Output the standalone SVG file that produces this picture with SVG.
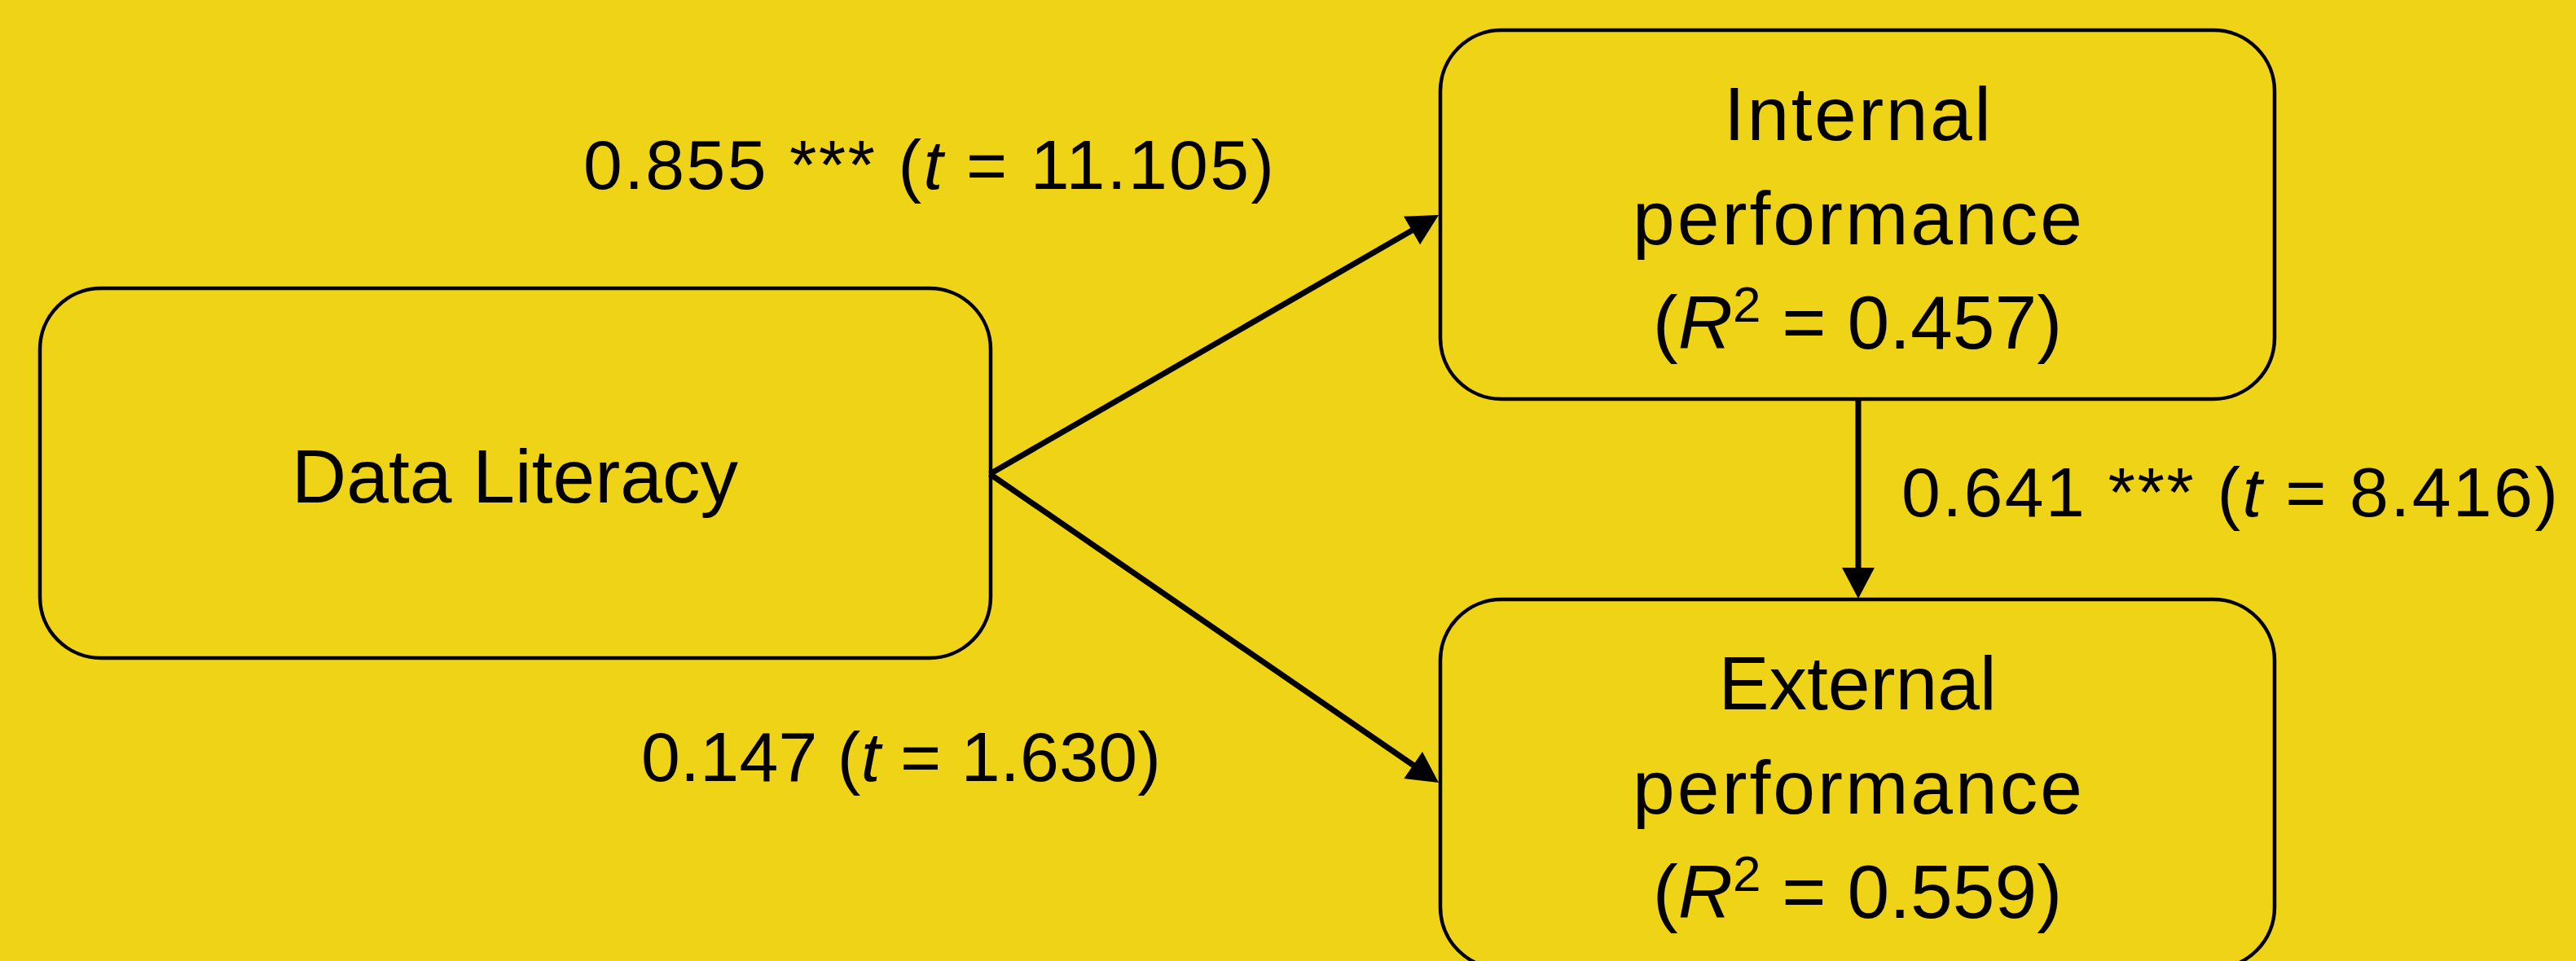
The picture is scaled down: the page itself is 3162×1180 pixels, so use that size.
<svg xmlns="http://www.w3.org/2000/svg" width="3162" height="1180" viewBox="0 0 3162 1180">
  <defs>
    <style>
      .box { fill: none; stroke: #000; stroke-width: 4.5; }
      .node { font-family: "Liberation Sans", Arial, sans-serif; font-size: 93px; fill: #000; text-anchor: middle; }
      .lbl { font-family: "Liberation Sans", Arial, sans-serif; font-size: 86px; fill: #000; text-anchor: middle; }
      .it { font-style: italic; }
      .sup { font-size: 62px; }
      .edge { stroke: #000; stroke-width: 7; fill: none; marker-end: url(#head); }
    </style>
    <!-- filled triangular arrowhead, tip at x=38 -->
    <marker id="head" markerUnits="userSpaceOnUse" markerWidth="38" markerHeight="40" refX="23" refY="20" orient="auto" overflow="visible">
      <path d="M0,0 L38,20 L0,40 Z" fill="#000"/>
    </marker>
  </defs>

  <rect x="0" y="0" width="3162" height="1180" fill="#EFD316"/>

  <g id="connectors">
    <line class="edge" x1="1215" y1="582" x2="1753" y2="271.5"/>
    <line class="edge" x1="1215" y1="582" x2="1753.6" y2="952.5"/>
    <line class="edge" x1="2281" y1="490" x2="2281" y2="720"/>
  </g>

  <g id="edge-labels">
    <text class="lbl" x="1140" y="232" textLength="848">0.855 *** (<tspan class="it">t</tspan> = 11.105)</text>
    <text class="lbl" x="2737" y="634" textLength="806">0.641 *** (<tspan class="it">t</tspan> = 8.416)</text>
    <text class="lbl" x="1106" y="959" textLength="638">0.147 (<tspan class="it">t</tspan> = 1.630)</text>
  </g>

  <g id="data-literacy">
    <rect class="box" x="49" y="354" width="1167" height="454" rx="75" ry="75"/>
    <text class="node" x="632" y="617">Data Literacy</text>
  </g>

  <g id="internal-performance">
    <rect class="box" x="1768" y="37" width="1024" height="453" rx="75" ry="75"/>
    <text class="node" x="2280" y="172" textLength="328">Internal</text>
    <text class="node" x="2280" y="300" textLength="552">performance</text>
    <text class="node" x="2280" y="428">(<tspan class="it">R</tspan><tspan class="sup" dy="-33">2</tspan><tspan dy="33"> = 0.457)</tspan></text>
  </g>

  <g id="external-performance">
    <rect class="box" x="1768" y="736" width="1024" height="453" rx="75" ry="75"/>
    <text class="node" x="2280" y="871">External</text>
    <text class="node" x="2280" y="999" textLength="552">performance</text>
    <text class="node" x="2280" y="1127">(<tspan class="it">R</tspan><tspan class="sup" dy="-33">2</tspan><tspan dy="33"> = 0.559)</tspan></text>
  </g>
</svg>
